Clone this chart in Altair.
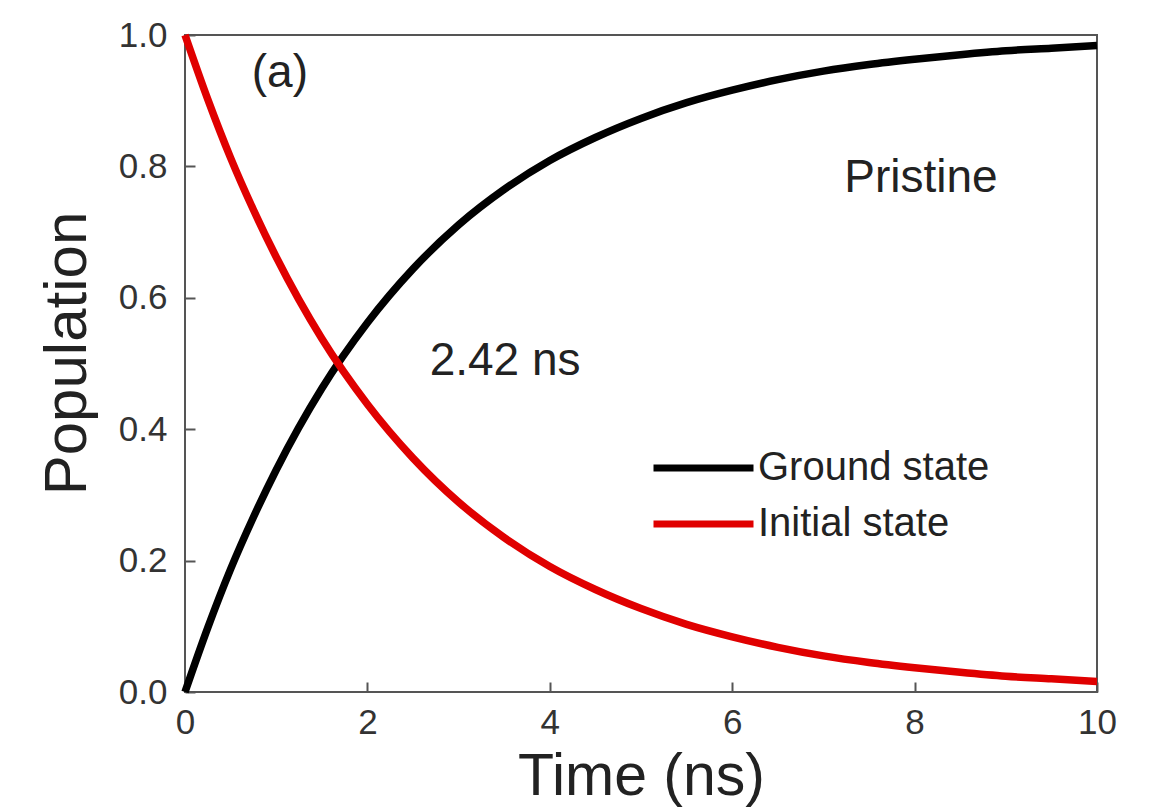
import altair as alt
import pandas as pd

time_ns = [0, 0.25, 0.5, 0.75, 1, 1.5, 2, 2.5, 3, 3.5, 4, 4.5, 5, 5.5, 6, 6.5, 7, 7.5, 8, 8.5, 9, 9.5, 10]
initial_state = [1.0, 0.902, 0.813, 0.734, 0.662, 0.538, 0.438, 0.356, 0.289, 0.235, 0.191, 0.156,
                 0.127, 0.103, 0.084, 0.068, 0.055, 0.045, 0.037, 0.030, 0.024, 0.020, 0.016]
ground_state = [0.0, 0.098, 0.187, 0.266, 0.338, 0.462, 0.562, 0.644, 0.711, 0.765, 0.809, 0.844,
                0.873, 0.897, 0.916, 0.932, 0.945, 0.955, 0.963, 0.970, 0.976, 0.980, 0.984]

series_names = ["Ground state", "Initial state"]
series_colors = ["#000000", "#e00000"]

notes_text = ["(a)", "Pristine", "2.42 ns"]
notes_x = [1.04, 8.07, 3.51]
notes_y = [0.942, 0.782, 0.504]

x_ticks = [0, 2, 4, 6, 8, 10]
y_ticks = [0.0, 0.2, 0.4, 0.6, 0.8, 1.0]

rows = []
for t, g, i in zip(time_ns, ground_state, initial_state):
    rows.append({"t": t, "pop": g, "series": "Ground state"})
    rows.append({"t": t, "pop": i, "series": "Initial state"})
df = pd.DataFrame(rows)
notes = pd.DataFrame({"label": notes_text, "t": notes_x, "pop": notes_y})

FONT = "Liberation Sans"

xscale = alt.Scale(domain=[0, 10], nice=False)
yscale = alt.Scale(domain=[0, 1], nice=False)

xaxis = alt.Axis(values=x_ticks, title="Time (ns)", format="d", grid=False, domain=False,
                 offset=-10, tickSize=10, tickWidth=2, tickColor="#555555",
                 labelPadding=13, labelFontSize=35, labelFont=FONT, labelColor="#333333",
                 titleFont=FONT, titleFontSize=59, titleFontWeight="normal", titleColor="#222222",
                 titlePadding=7, labelFlush=False)
yaxis = alt.Axis(values=y_ticks, title="Population", format=".1f", grid=False, domain=False,
                 offset=-10, tickSize=10, tickWidth=2, tickColor="#555555",
                 labelPadding=18, labelFontSize=35, labelFont=FONT, labelColor="#333333",
                 titleFont=FONT, titleFontSize=60, titleFontWeight="normal", titleColor="#222222",
                 titlePadding=20, titleY=318, labelFlush=False)

lines = alt.Chart(df).mark_line(strokeWidth=7.5, interpolate="monotone").encode(
    x=alt.X("t:Q", scale=xscale, axis=xaxis),
    y=alt.Y("pop:Q", scale=yscale, axis=yaxis),
    color=alt.Color("series:N", scale=alt.Scale(domain=series_names, range=series_colors),
                    legend=alt.Legend(title=None, orient="none", legendX=465, legendY=415,
                                      symbolType="stroke", symbolSize=10000, symbolStrokeWidth=7,
                                      labelFontSize=40, labelFont=FONT, labelColor="#222222",
                                      labelLimit=0, labelOffset=1, clipHeight=36, rowPadding=16)),
)

text = alt.Chart(notes).mark_text(font=FONT, fontSize=46, color="#222222").encode(
    x=alt.X("t:Q", scale=xscale),
    y=alt.Y("pop:Q", scale=yscale),
    text="label:N",
)

chart = (lines + text).properties(
    width=912, height=657,
    autosize=alt.AutoSizeParams(type="none"),
    padding={"left": 185, "top": 35, "right": 55, "bottom": 115},
    background="white",
).configure_view(stroke="#555555", strokeWidth=2)

chart.save("out.html", embed_options={"renderer": "svg", "actions": False})
